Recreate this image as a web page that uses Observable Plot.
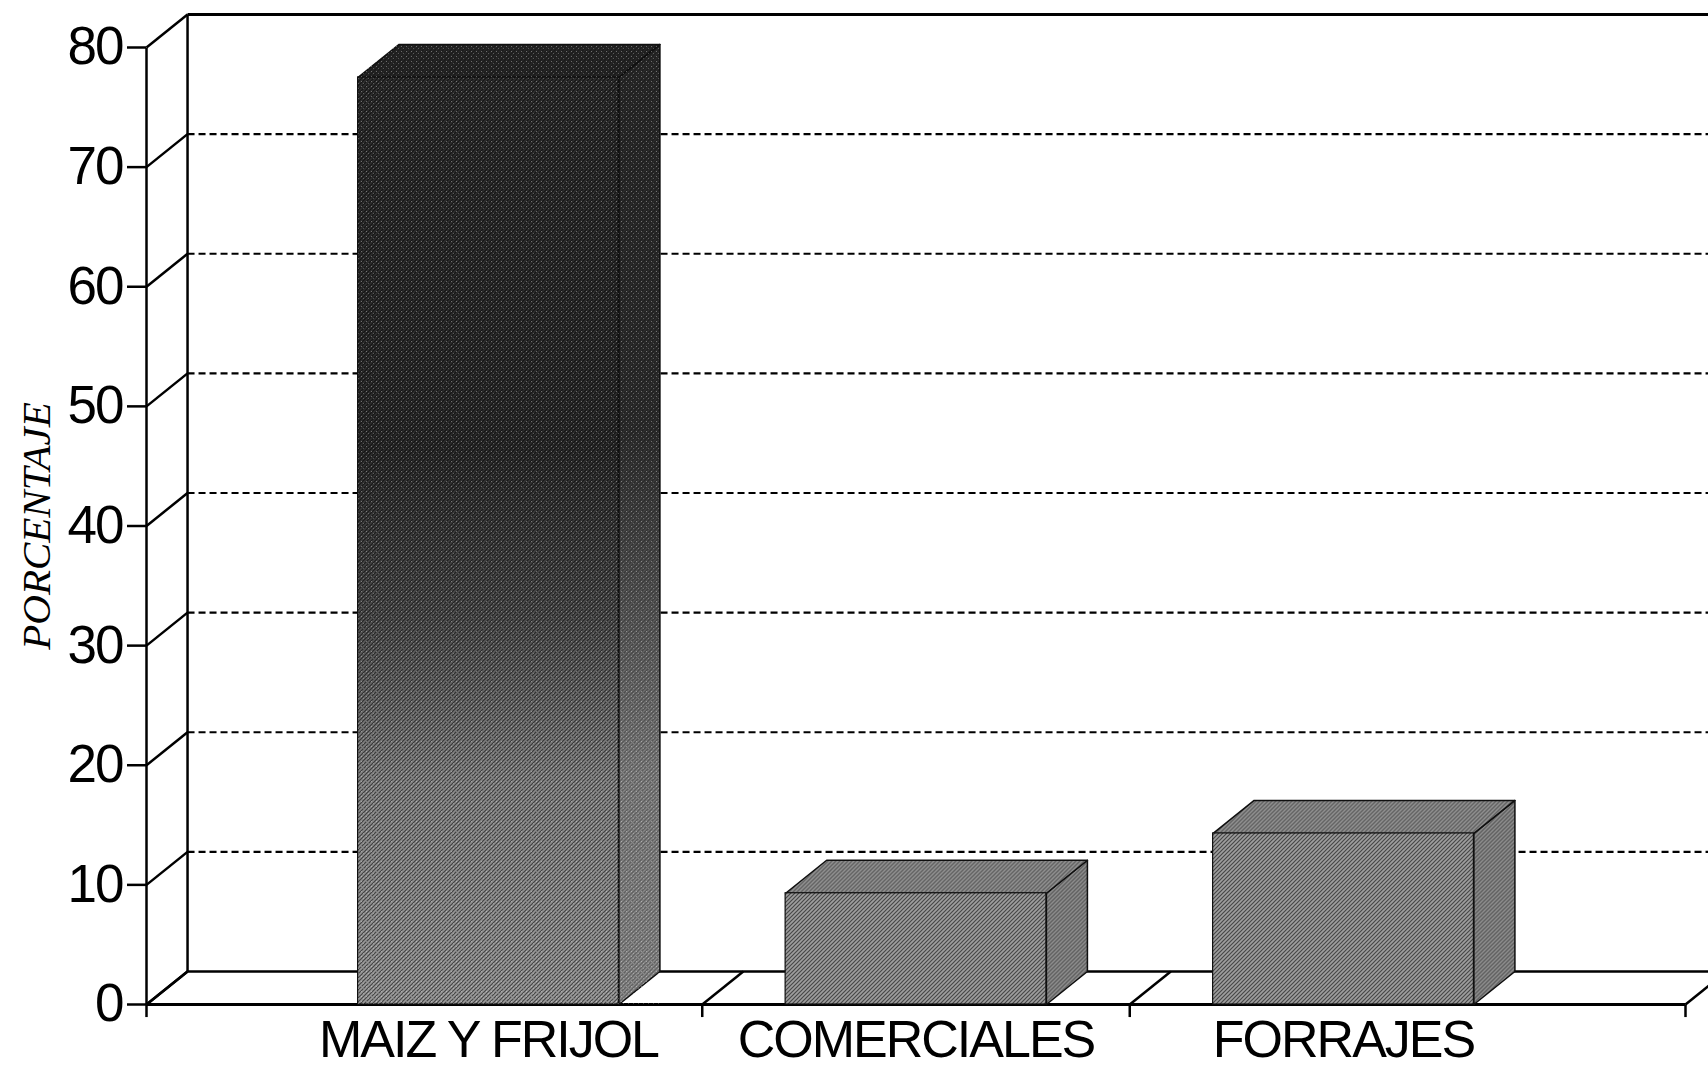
<!DOCTYPE html>
<html><head><meta charset="utf-8">
<script src="https://cdn.jsdelivr.net/npm/d3@7"></script>
<script src="https://cdn.jsdelivr.net/npm/@observablehq/plot@0.6"></script>
<style>
html,body{margin:0;padding:0;background:#fff;overflow:hidden;}
#chart svg{display:block;overflow:hidden;}
#chart svg text{letter-spacing:-2px;}
#chart svg text.ylab, #chart svg .ylab text{letter-spacing:0;}
</style></head><body><div id="chart"></div>
<script>
// ---- data ----
const categories = ["MAIZ Y FRIJOL", "COMERCIALES", "FORRAJES"];
const values = [77.5, 9.3, 14.3];
const yTicks = [0, 10, 20, 30, 40, 50, 60, 70, 80];
const yLabel = "PORCENTAJE";
const catBoundaries = [-0.8, 0.5, 1.5, 2.8];

// ---- geometry (style constants) ----
const X0 = -0.8, X1 = 2.8;      // x extent in category units
const DX = 0.096, DY = 2.76;    // 3D depth offset in data units
const H = 0.305;                // half bar width
const YMAX = 80;

const bars = categories.map((c, i) => ({c, i, v: values[i]}));

function topFace(b) {
  const k = "top" + b.i;
  return [[b.i - H, b.v], [b.i + H, b.v], [b.i + H + DX, b.v + DY], [b.i - H + DX, b.v + DY], [b.i - H, b.v]]
    .map(([x, y]) => ({x, y, k, i: b.i}));
}
function sideFace(b) {
  const k = "side" + b.i;
  return [[b.i + H, 0], [b.i + H + DX, DY], [b.i + H + DX, b.v + DY], [b.i + H, b.v], [b.i + H, 0]]
    .map(([x, y]) => ({x, y, k, i: b.i}));
}
const tops = bars.flatMap(topFace);
const sides = bars.flatMap(sideFace);

const gridBack = yTicks.filter(t => t > 0 && t < YMAX);
const lineW = 2.5;

const svg = Plot.plot({
  width: 1708, height: 1071,
  marginLeft: 146, marginRight: 23, marginTop: 47, marginBottom: 67,
  x: {domain: [X0, X1]},
  y: {domain: [0, YMAX]},
  style: {fontFamily: "'Liberation Sans', Arial, sans-serif", background: "white", color: "black"},
  marks: [
    // back wall dashed grid
    Plot.link(gridBack, {x1: () => X0 + DX, x2: () => X1 + DX, y1: t => t + DY, y2: t => t + DY,
      stroke: "black", strokeWidth: 2.2, strokeDasharray: "7,4"}),
    // top frame line
    Plot.link([YMAX], {x1: () => X0 + DX, x2: () => X1 + DX, y1: t => t + DY, y2: t => t + DY, stroke: "black", strokeWidth: 3}),
    // back floor line
    Plot.link([0], {x1: () => X0 + DX, x2: () => X1 + DX, y1: t => t + DY, y2: t => t + DY, stroke: "black", strokeWidth: lineW}),
    // back vertical axis
    Plot.link([X0], {x1: d => d + DX, x2: d => d + DX, y1: () => DY, y2: () => YMAX + DY, stroke: "black", strokeWidth: lineW}),
    // connectors from front axis to back wall
    Plot.link(yTicks, {x1: () => X0, y1: t => t, x2: () => X0 + DX, y2: t => t + DY, stroke: "black", strokeWidth: lineW}),
    // floor diagonals
    Plot.link(catBoundaries, {x1: d => d, y1: () => 0, x2: d => d + DX, y2: () => DY, stroke: "black", strokeWidth: lineW}),
    // front floor line
    Plot.link([0], {x1: () => X0, x2: () => X1, y1: d => d, y2: d => d, stroke: "black", strokeWidth: lineW + 0.5}),
    // ticks below floor
    Plot.link(catBoundaries, {x1: d => d, x2: d => d, y1: () => 0, y2: () => -1.05, stroke: "black", strokeWidth: lineW}),
    // front vertical axis
    Plot.link([X0], {x1: d => d, x2: d => d, y1: () => 0, y2: () => YMAX, stroke: "black", strokeWidth: lineW}),

    // bars: side faces
    Plot.line(sides.filter(d => d.i === 0), {x: "x", y: "y", z: "k", fill: "url(#gMaizSide)", stroke: "#111", strokeWidth: 1.5}),
    Plot.line(sides.filter(d => d.i !== 0), {x: "x", y: "y", z: "k", fill: "#989898", stroke: "#111", strokeWidth: 1.5}),
    Plot.line(sides, {x: "x", y: "y", z: "k", fill: "url(#tex)", stroke: "none"}),
    // bars: top faces
    Plot.line(tops.filter(d => d.i === 0), {x: "x", y: "y", z: "k", fill: "#2a2a2a", stroke: "#111", strokeWidth: 1.5}),
    Plot.line(tops.filter(d => d.i !== 0), {x: "x", y: "y", z: "k", fill: "#9c9c9c", stroke: "#111", strokeWidth: 1.5}),
    Plot.line(tops, {x: "x", y: "y", z: "k", fill: "url(#tex)", stroke: "none"}),
    // bars: front faces
    Plot.rect(bars.filter(d => d.i === 0), {x1: d => d.i - H, x2: d => d.i + H, y1: () => 0, y2: "v", fill: "url(#gMaiz)", stroke: "#111", strokeWidth: 1.2}),
    Plot.rect(bars.filter(d => d.i !== 0), {x1: d => d.i - H, x2: d => d.i + H, y1: () => 0, y2: "v", fill: "#9e9e9e", stroke: "#111", strokeWidth: 1.2}),
    Plot.rect(bars, {x1: d => d.i - H, x2: d => d.i + H, y1: () => 0, y2: "v", fill: "url(#tex)"}),
    Plot.rect(bars.filter(d => d.i === 0), {x1: d => d.i - H, x2: d => d.i + H + DX, y1: () => 0, y2: d => d.v + DY, fill: "url(#speck)"}),

    // axes
    Plot.axisY({ticks: yTicks, anchor: "left", tickSize: 19, tickPadding: 5, fontSize: 53, strokeWidth: lineW, label: null}),
    Plot.axisX({ticks: [0, 1, 2], tickFormat: i => categories[i], tickSize: 0, tickPadding: 16, fontSize: 52, label: null}),
    Plot.text([yLabel], {text: d => d, frameAnchor: "left", dx: -110, rotate: -90, textAnchor: "middle", fontSize: 41,
      fontFamily: "'Liberation Serif', 'Times New Roman', serif", fontStyle: "italic", className: "ylab"})
  ]
});

const defs = d3.select(svg).insert("defs", ":first-child");
function grad(id, stops) {
  const g = defs.append("linearGradient").attr("id", id).attr("x1", 0).attr("y1", 0).attr("x2", 0).attr("y2", 1);
  stops.forEach(([o, c]) => g.append("stop").attr("offset", o).attr("stop-color", c));
}
grad("gMaiz", [[0, "#2e2e2e"], [0.4, "#2c2c2c"], [0.58, "#4e4e4e"], [0.76, "#8a8a8a"], [1, "#9c9c9c"]]);
grad("gMaizSide", [[0, "#2e2e2e"], [0.4, "#333333"], [0.58, "#606060"], [0.76, "#909090"], [1, "#9a9a9a"]]);
const tex = defs.append("pattern").attr("id", "tex").attr("patternUnits", "userSpaceOnUse").attr("width", 4).attr("height", 4);
tex.append("path").attr("d", "M0,4L4,0M-1,1L1,-1M3,5L5,3").attr("stroke", "#000").attr("stroke-width", 1.2).attr("stroke-opacity", 0.55);
const speck = defs.append("pattern").attr("id", "speck").attr("patternUnits", "userSpaceOnUse").attr("width", 5).attr("height", 5);
speck.append("rect").attr("x", 1).attr("y", 1).attr("width", 1).attr("height", 1).attr("fill", "#fff").attr("fill-opacity", 0.35);
speck.append("rect").attr("x", 3).attr("y", 3).attr("width", 1).attr("height", 1).attr("fill", "#fff").attr("fill-opacity", 0.25);

document.getElementById("chart").appendChild(svg);
</script>
</body></html>
